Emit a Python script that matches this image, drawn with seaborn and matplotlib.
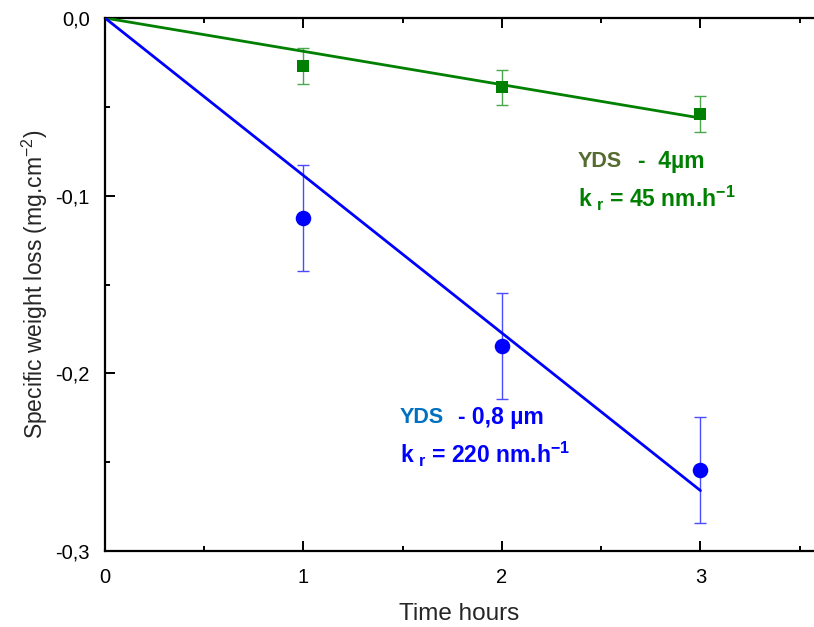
import matplotlib
matplotlib.use("Agg")
import matplotlib.pyplot as plt
import seaborn as sns
import numpy as np
import pandas as pd
from matplotlib.ticker import MultipleLocator, FuncFormatter

# ---- data ----
time_h = [1, 2, 3]
green_loss = [-0.027, -0.039, -0.054]
green_err = [0.010, 0.010, 0.010]
blue_loss = [-0.1125, -0.1846, -0.2544]
blue_err = [0.030, 0.030, 0.030]
fit_x = [0, 3]
green_fit = [0.0, -0.0563]
blue_fit = [0.0, -0.266]

sns.set_theme(style="ticks")
plt.rcParams['font.family'] = ['Liberation Sans', 'DejaVu Sans']
plt.rcParams['mathtext.fontset'] = 'custom'
plt.rcParams['mathtext.rm'] = 'Liberation Sans'
plt.rcParams['mathtext.bf'] = 'Liberation Sans:bold'
plt.rcParams['mathtext.default'] = 'bf'

fig = plt.figure(figsize=(8.14, 6.27), dpi=100)
ax = fig.add_axes([105/814, 1-551/627, 1-105/814, (551-18)/627])

GREEN = '#008000'
BLUE = '#0000ff'

# fit lines
sns.lineplot(x=fit_x, y=green_fit, ax=ax, color=GREEN, lw=2.0, zorder=3)
sns.lineplot(x=fit_x, y=blue_fit, ax=ax, color=BLUE, lw=2.0, zorder=3)

# error bars
ax.errorbar(time_h, green_loss, yerr=green_err, fmt='none', ecolor='#4ca64c',
            elinewidth=1.0, capsize=4, capthick=1.0, zorder=2)
ax.errorbar(time_h, blue_loss, yerr=blue_err, fmt='none', ecolor='#4c4cff',
            elinewidth=1.0, capsize=4, capthick=1.0, zorder=2)

# points
sns.scatterplot(x=time_h, y=green_loss, ax=ax, marker='s', s=85, color=GREEN,
                edgecolor=GREEN, linewidth=0, zorder=4)
sns.scatterplot(x=time_h, y=blue_loss, ax=ax, marker='o', s=125, color=BLUE,
                edgecolor=BLUE, linewidth=0, zorder=4)

ax.set_xlim(0, 3.572)
ax.set_ylim(-0.3, 0.0)
ax.xaxis.set_major_locator(MultipleLocator(1))
ax.xaxis.set_minor_locator(MultipleLocator(0.5))
ax.yaxis.set_major_locator(MultipleLocator(0.1))
ax.yaxis.set_minor_locator(MultipleLocator(0.05))

def yfmt(v, pos):
    s = f"{v:.1f}".replace('.', ',')
    if s == '-0,0':
        s = '0,0'
    return s
ax.yaxis.set_major_formatter(FuncFormatter(yfmt))
ax.xaxis.set_major_formatter(FuncFormatter(lambda v, p: f"{v:.0f}"))

for sp in ['left', 'bottom', 'top']:
    ax.spines[sp].set_linewidth(1.6)
    ax.spines[sp].set_color('black')
ax.spines['right'].set_visible(False)

ax.tick_params(which='both', direction='in', top=True, right=False, width=1.4,
               colors='black', labelsize=14.5)
ax.tick_params(axis='y', which='major', pad=11)
ax.tick_params(axis='x', which='major', pad=12)
ax.tick_params(which='major', length=7.2)
ax.tick_params(which='minor', length=3.6)

ax.set_xlabel('Time hours', fontsize=17.5, labelpad=12)
ax.set_ylabel(r'Specific weight loss (mg.cm$^{\mathregular{-2}}$)', fontsize=16.5, labelpad=4)

# annotations
ax.text(2.383, -0.081, 'YDS', color='#556b2f', fontsize=15.5, fontweight='bold',
        va='center')
ax.text(2.685, -0.081, '-  4µm', color=GREEN, fontsize=16.5, fontweight='bold',
        va='center')
ax.text(2.383, -0.1013, r'k$_{\ \mathbf{r}}$ = 45 nm.h$^{\mathbf{-1}}$', color=GREEN,
        fontsize=16.5, fontweight='bold', va='center')

ax.text(1.486, -0.2251, 'YDS', color='#0070c0', fontsize=15.5, fontweight='bold',
        va='center')
ax.text(1.778, -0.2251, '- 0,8 µm', color=BLUE, fontsize=16.5, fontweight='bold',
        va='center')
ax.text(1.486, -0.2459, r'k$_{\ \mathbf{r}}$ = 220 nm.h$^{\mathbf{-1}}$', color=BLUE,
        fontsize=16.5, fontweight='bold', va='center')

fig.savefig('out.png', dpi=100)
